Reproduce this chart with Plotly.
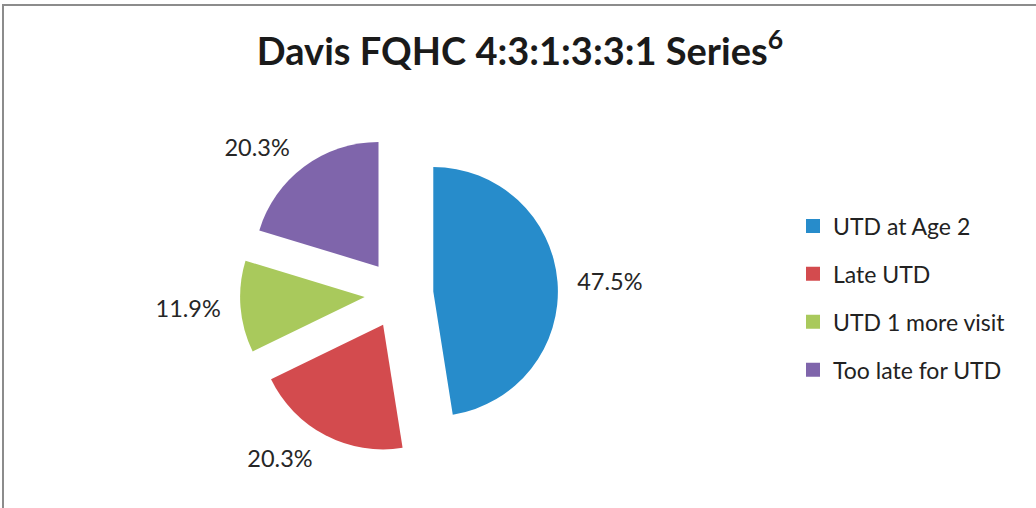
import plotly.graph_objects as go

categories = ["UTD at Age 2", "Late UTD", "UTD 1 more visit", "Too late for UTD"]
values = [47.5, 20.3, 11.9, 20.3]
colors = ["#278CCB", "#D34B4E", "#A9C95C", "#7F65AB"]
title_text = "Davis FQHC 4:3:1:3:3:1 Series<sup>6</sup>"

W, H = 1036, 508
FONT = "Lato"
PULL = 0.276
CX, CY, HALF = 399, 294.3, 159      # pie box centre / half-size, px
LBL_SCALE = 1.08                    # data labels sit a little further out


def domain(scale):
    h = HALF * scale
    return dict(x=[(CX - h) / W, (CX + h) / W],
                y=[1 - (CY + h) / H, 1 - (CY - h) / H])


fig = go.Figure()
# label layer: same slices, invisible, slightly larger so the outside
# percentage labels sit at the reference's distance
fig.add_trace(go.Pie(
    labels=categories, values=values,
    marker=dict(colors=["rgba(0,0,0,0)"] * len(values), line=dict(width=0)),
    sort=False, direction="clockwise", rotation=0,
    pull=[PULL] * len(values),
    textposition="outside", texttemplate="%{percent:.1%}",
    textfont=dict(family=FONT, size=23.5, color="#262626"),
    showlegend=False, hoverinfo="skip",
    domain=domain(LBL_SCALE),
))
# visible pie
fig.add_trace(go.Pie(
    labels=categories, values=values,
    marker=dict(colors=colors, line=dict(width=0)),
    sort=False, direction="clockwise", rotation=0,
    pull=[PULL] * len(values),
    textinfo="none",
    showlegend=False, hoverinfo="label+percent",
    domain=domain(1.0),
))

for name, col in zip(categories, colors):
    fig.add_trace(go.Scatter(
        x=[None], y=[None], mode="markers", name=name,
        marker=dict(symbol="square", size=14, color=col),
        legendgroup=name, showlegend=True,
    ))

fig.update_layout(
    width=W, height=H,
    margin=dict(l=0, r=0, t=0, b=0, pad=0, autoexpand=False),
    paper_bgcolor="white", plot_bgcolor="white",
    xaxis=dict(visible=False), yaxis=dict(visible=False),
    title=dict(text=title_text, x=520 / W, xanchor="center",
               y=1 - 52 / H, yanchor="middle", yref="container",
               font=dict(family=FONT, size=38, color="#1a1a1a", weight="bold")),
    legend=dict(x=793 / W, xanchor="left", y=1 - 298 / H, yanchor="middle",
                font=dict(family=FONT, size=23, color="#222222"),
                tracegroupgap=15, bgcolor="rgba(0,0,0,0)"),
    shapes=[dict(type="rect", xref="paper", yref="paper",
                 x0=3 / W, x1=1.2, y0=-0.2, y1=1 - 5 / H,
                 line=dict(color="#8C8C8C", width=2), fillcolor="rgba(0,0,0,0)")],
)

fig.write_html("out.html", config={"displayModeBar": False},
               post_script="document.body.style.margin='0';")
